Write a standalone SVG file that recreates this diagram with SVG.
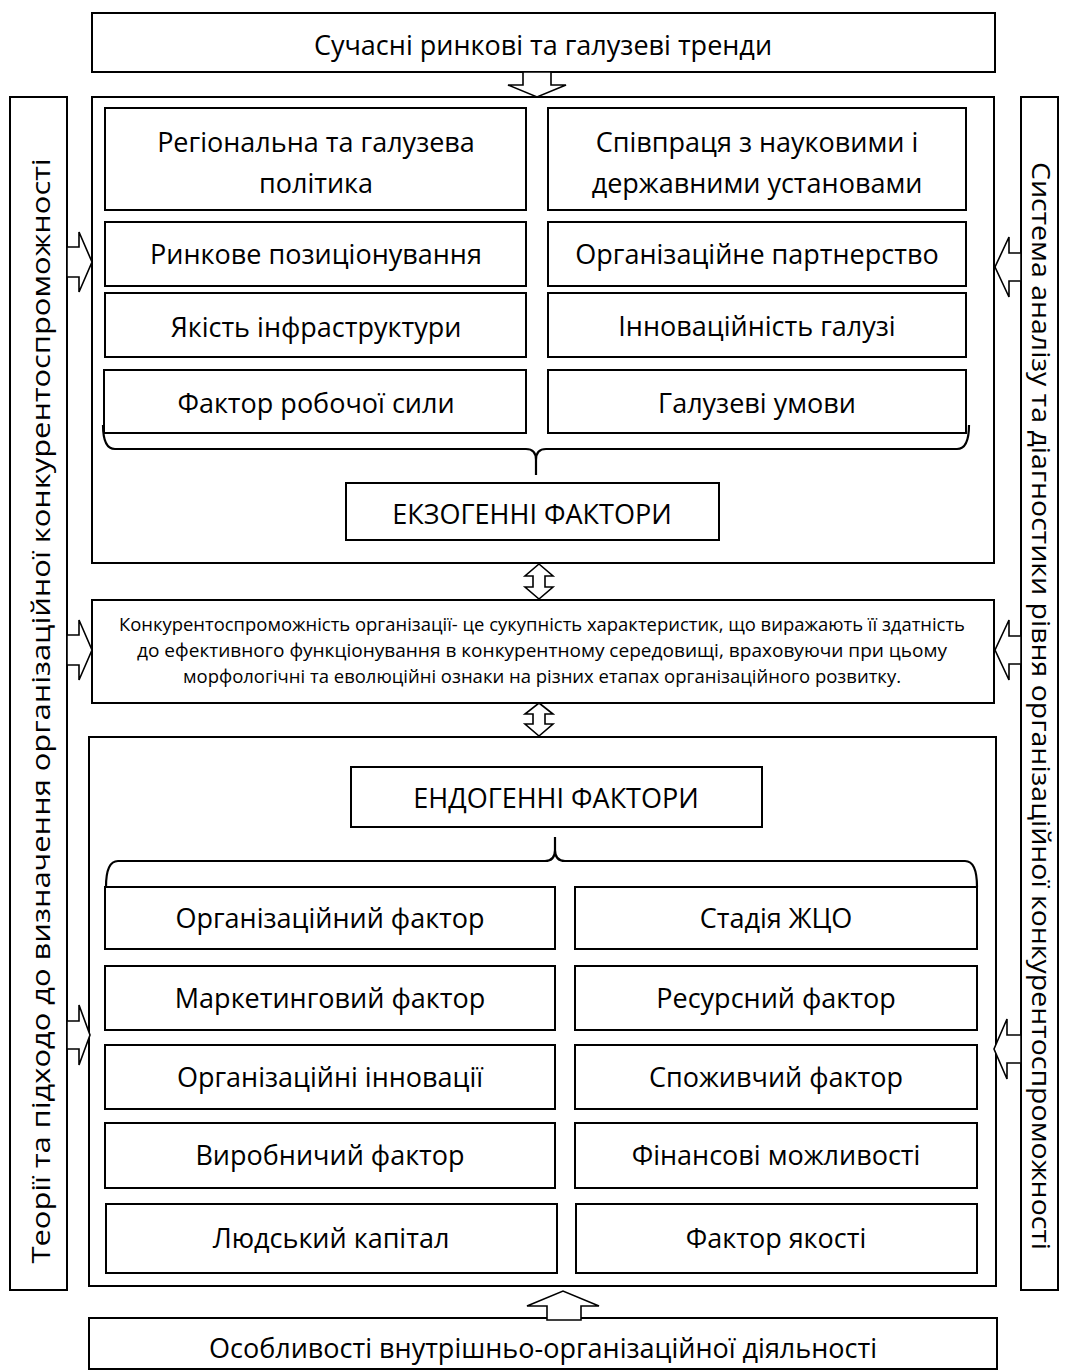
<svg xmlns="http://www.w3.org/2000/svg" width="1068" height="1372" viewBox="0 0 1068 1372">
<style>
.b{fill:#fff;stroke:#000;stroke-width:2}
.a{fill:#fff;stroke:#000;stroke-width:1.6;stroke-linejoin:miter}
.br{fill:none;stroke:#000;stroke-width:2.2}
.t{font-family:"Open Sans","Liberation Sans",sans-serif;font-size:27px;fill:#000;text-anchor:middle;dominant-baseline:central}
.s{font-family:"Open Sans","Liberation Sans",sans-serif;font-size:26px;fill:#000;text-anchor:middle;dominant-baseline:central}
.d{font-family:"Open Sans","Liberation Sans",sans-serif;font-size:17.5px;fill:#000;text-anchor:middle;dominant-baseline:central}
</style>
<rect width="1068" height="1372" fill="#fff"/>
<g id="side-left"><rect class="b" x="10" y="97" width="57" height="1193"/>
<text class="s" transform="translate(40,711) rotate(-90)" textLength="1105" lengthAdjust="spacingAndGlyphs">Теорії та підходо до визначення організаційної конкурентоспроможності</text></g>
<g id="side-right"><rect class="b" x="1021" y="97" width="37" height="1193"/>
<text class="s" transform="translate(1042,706) rotate(90)" textLength="1088" lengthAdjust="spacingAndGlyphs">Система аналізу та діагностики рівня організаційної конкурентоспроможності</text></g>
<g id="top"><rect class="b" x="92" y="13" width="903" height="59"/><text class="t" x="543" y="44">Сучасні ринкові та галузеві тренди</text></g>
<g id="exo"><rect class="b" x="92" y="97" width="902" height="466"/></g>
<g id="exo-1l"><rect class="b" x="105" y="108" width="421" height="102"/><text class="t" x="316" y="141">Регіональна та галузева</text><text class="t" x="316" y="182">політика</text></g>
<g id="exo-1r"><rect class="b" x="548" y="108" width="418" height="102"/><text class="t" x="757" y="141">Співпраця з науковими і</text><text class="t" x="757" y="182">державними установами</text></g>
<g id="exo-2l"><rect class="b" x="105" y="222" width="421" height="64"/><text class="t" x="316" y="253">Ринкове позиціонування</text></g>
<g id="exo-2r"><rect class="b" x="548" y="222" width="418" height="64"/><text class="t" x="757" y="253">Організаційне партнерство</text></g>
<g id="exo-3l"><rect class="b" x="105" y="293" width="421" height="64"/><text class="t" x="316" y="326">Якість інфраструктури</text></g>
<g id="exo-3r"><rect class="b" x="548" y="293" width="418" height="64"/><text class="t" x="757" y="325">Інноваційність галузі</text></g>
<g id="exo-4l"><rect class="b" x="104" y="370" width="422" height="63"/><text class="t" x="316" y="402">Фактор робочої сили</text></g>
<g id="exo-4r"><rect class="b" x="548" y="370" width="418" height="63"/><text class="t" x="757" y="402">Галузеві умови</text></g>
<g id="exo-title"><rect class="b" x="346" y="483" width="373" height="57"/><text class="t" x="532" y="513">ЕКЗОГЕННІ ФАКТОРИ</text></g>
<g id="definition"><rect class="b" x="92" y="600" width="902" height="103"/>
<text class="d" x="542" y="624" textLength="846" lengthAdjust="spacingAndGlyphs">Конкурентоспроможність організації- це сукупність характеристик, що виражають її здатність</text>
<text class="d" x="542" y="650" textLength="810" lengthAdjust="spacingAndGlyphs">до ефективного функціонування в конкурентному середовищі, враховуючи при цьому</text>
<text class="d" x="542" y="676" textLength="718" lengthAdjust="spacingAndGlyphs">морфологічні та еволюційні ознаки на різних етапах організаційного розвитку.</text></g>
<g id="endo"><rect class="b" x="89" y="737" width="907" height="549"/></g>
<g id="endo-title"><rect class="b" x="351" y="767" width="411" height="60"/><text class="t" x="556" y="797">ЕНДОГЕННІ ФАКТОРИ</text></g>
<g id="endo-1l"><rect class="b" x="105" y="887" width="450" height="62"/><text class="t" x="330" y="917">Організаційний фактор</text></g>
<g id="endo-1r"><rect class="b" x="575" y="887" width="402" height="62"/><text class="t" x="776" y="917">Стадія ЖЦО</text></g>
<g id="endo-2l"><rect class="b" x="105" y="966" width="450" height="64"/><text class="t" x="330" y="997">Маркетинговий фактор</text></g>
<g id="endo-2r"><rect class="b" x="575" y="966" width="402" height="64"/><text class="t" x="776" y="997">Ресурсний фактор</text></g>
<g id="endo-3l"><rect class="b" x="105" y="1045" width="450" height="64"/><text class="t" x="330" y="1076">Організаційні інновації</text></g>
<g id="endo-3r"><rect class="b" x="575" y="1045" width="402" height="64"/><text class="t" x="776" y="1076">Споживчий фактор</text></g>
<g id="endo-4l"><rect class="b" x="105" y="1123" width="450" height="65"/><text class="t" x="330" y="1154">Виробничий фактор</text></g>
<g id="endo-4r"><rect class="b" x="575" y="1123" width="402" height="65"/><text class="t" x="776" y="1154">Фінансові можливості</text></g>
<g id="endo-5l"><rect class="b" x="106" y="1204" width="451" height="69"/><text class="t" x="331" y="1237">Людський капітал</text></g>
<g id="endo-5r"><rect class="b" x="576" y="1204" width="401" height="69"/><text class="t" x="776" y="1237">Фактор якості</text></g>
<g id="bottom"><rect class="b" x="89" y="1318" width="908" height="51"/><text class="t" x="543" y="1347">Особливості внутрішньо-організаційної діяльності</text></g>
<g id="connectors">
<path class="br" d="M103,425 Q103,449 115,449 L526,449 Q536,449 536,460 L536,475 M969,425 Q969,449 957,449 L546,449 Q536,449 536,460"/>
<path class="br" d="M106,887 Q106,861 118,861 L545,861 Q555,861 555,850 L555,837 M977,887 Q977,861 965,861 L565,861 Q555,861 555,850"/>
<polygon class="a" points="523,72 551,72 551,85 566,85 537,97 508,85 523,85"/>
<polygon class="a" points="547,1320 547,1306 527,1306 563,1291 599,1306 581,1306 581,1320"/>
<polygon class="a" points="539,564 553,576 545,576 545,587 553,587 539,599 525,587 533,587 533,576 525,576"/>
<polygon class="a" points="539,703 553,714 545,714 545,724 553,724 539,736 525,724 533,724 533,714 525,714"/>
<polygon class="a" points="67,247 79,247 79,232 92,262 79,292 79,277 67,277"/>
<polygon class="a" points="67,635 79,635 79,620 92,650 79,680 79,665 67,665"/>
<polygon class="a" points="67,1021 79,1021 79,1005 90,1035 79,1065 79,1049 67,1049"/>
<polygon class="a" points="1021,253 1009,253 1009,237 995,267 1009,297 1009,281 1021,281"/>
<polygon class="a" points="1021,636 1009,636 1009,620 995,650 1009,680 1009,664 1021,664"/>
<polygon class="a" points="1021,1035 1007,1035 1007,1019 994,1049 1007,1079 1007,1063 1021,1063"/>
</g>
</svg>
